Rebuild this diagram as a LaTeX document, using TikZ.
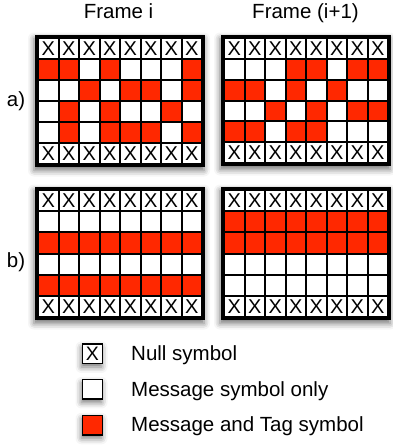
\documentclass[tikz,border=0pt]{standalone}
\usepackage{fontspec}
\setmainfont{Liberation Sans}
\usetikzlibrary{shadows.blur}
\definecolor{tagred}{RGB}{255,40,0}
\tikzset{
  gshadow/.style={blur shadow={shadow xshift=-1pt, shadow yshift=-3.5pt, shadow blur radius=6pt, shadow opacity=55}},
  cellbase/.style={inner sep=0pt, outer sep=0pt, font=\fontsize{20}{20}\selectfont},
  cx/.style={cellbase, fill=white, node contents={X}},
  c0/.style={cellbase, fill=white, node contents={}},
  c1/.style={cellbase, fill=tagred, node contents={}},
  lbl/.style={font=\fontsize{20.5}{20.5}\selectfont, inner sep=0pt},
  legbox/.style={draw=black, line width=1.5pt, minimum width=20pt, minimum height=19.5pt, inner sep=0pt, gshadow, font=\fontsize{19.5}{19.5}\selectfont}
}
\newcommand\mygrid[6]{%
  \fill[black, gshadow] (#2,#3) rectangle (#4,#5);
  \pgfmathsetmacro\cw{(#4-#2-6)/8}%
  \pgfmathsetmacro\ch{(#5-#3-6)/6}%
  \foreach \row [count=\r from 0] in {#6} {
    \foreach \v [count=\c from 0] in \row {
      \pgfmathsetmacro\xc{#2+3+(\c+0.5)*\cw}%
      \pgfmathsetmacro\yc{#3+3+(\r+0.5)*\ch}%
      \node[name=#1-\r-\c, c\v, minimum width=\cw pt-2pt, minimum height=\ch pt-2pt, at={(\xc,\yc)}];
    }
  }
}
\begin{document}
\begin{tikzpicture}[x=1pt,y=-1pt]
\useasboundingbox (0,0) rectangle (392,445);
% grids
\mygrid{ga1}{35}{35}{205}{167}{{x,x,x,x,x,x,x,x},{1,1,0,1,0,0,0,1},{0,0,1,0,1,1,0,1},{0,1,0,1,0,0,1,0},{0,1,0,1,1,1,0,1},{x,x,x,x,x,x,x,x}}
\mygrid{ga2}{221}{35}{391}{166}{{x,x,x,x,x,x,x,x},{0,0,0,1,1,0,1,1},{1,1,0,1,0,1,0,0},{0,0,1,0,1,0,1,1},{1,1,0,1,1,0,0,0},{x,x,x,x,x,x,x,x}}
\mygrid{gb1}{35}{187}{205}{320}{{x,x,x,x,x,x,x,x},{0,0,0,0,0,0,0,0},{1,1,1,1,1,1,1,1},{0,0,0,0,0,0,0,0},{1,1,1,1,1,1,1,1},{x,x,x,x,x,x,x,x}}
\mygrid{gb2}{221}{187}{391}{320}{{x,x,x,x,x,x,x,x},{1,1,1,1,1,1,1,1},{1,1,1,1,1,1,1,1},{0,0,0,0,0,0,0,0},{0,0,0,0,0,0,0,0},{x,x,x,x,x,x,x,x}}
% titles
\node[lbl, anchor=base] (t1) at (118.5,18.5) {Frame i};
\node[lbl, anchor=base] (t2) at (305.5,18.5) {Frame (i+1)};
\node[lbl] (la) at (16,101) {a)};
\node[lbl] (lb) at (16,262) {b)};
% legend
\node[legbox, fill=white] (k1) at (92.5,353.7) {X};
\node[legbox, fill=white] (k2) at (92.5,389.2) {};
\node[legbox, fill=tagred] (k3) at (92.5,425) {};
\node[lbl, anchor=base west] (l1) at (131,360) {Null symbol};
\node[lbl, anchor=base west] (l2) at (131,396) {Message symbol only};
\node[lbl, anchor=base west] (l3) at (131,431) {Message and Tag symbol};
\end{tikzpicture}
\end{document}
